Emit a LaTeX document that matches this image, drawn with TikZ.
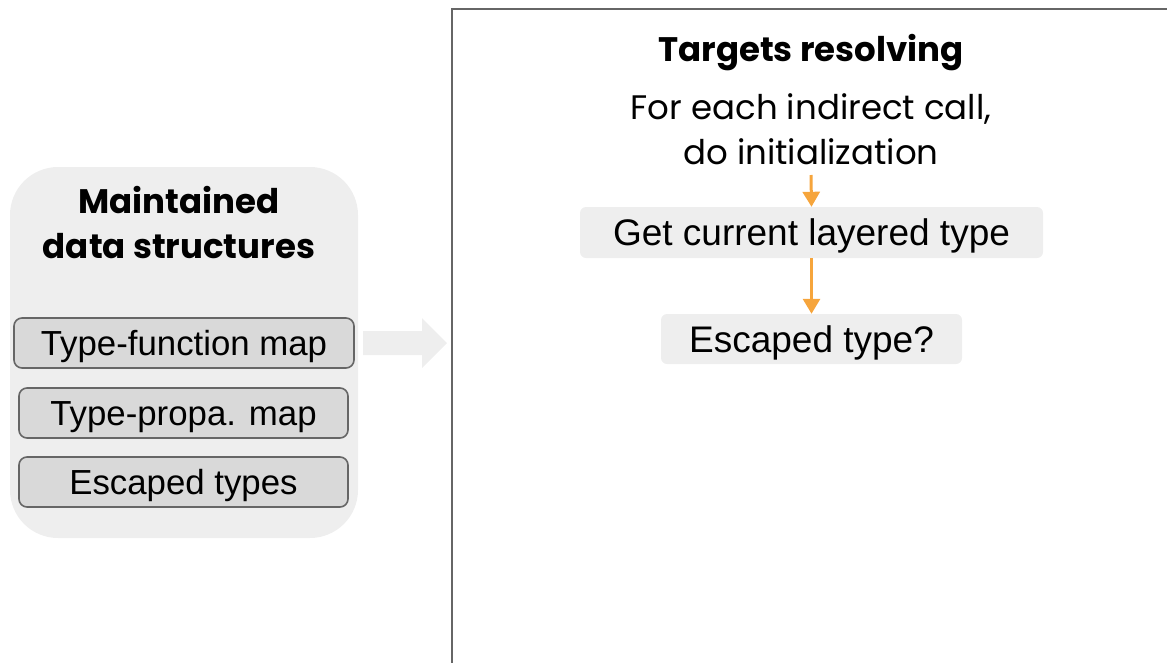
\documentclass[tikz,border=0pt]{standalone}
\usepackage{fontspec}
\setmainfont{Liberation Sans}
\newfontfamily\ttlfont{Poppins}
\usetikzlibrary{arrows.meta}
\definecolor{panel}{HTML}{EEEEEE}
\definecolor{boxfill}{HTML}{D9D9D9}
\definecolor{edge}{HTML}{666666}
\definecolor{orangeA}{HTML}{F6A53C}
\tikzset{
  dsbox/.style={draw=edge, line width=1.6pt, fill=boxfill, rounded corners=8pt, inner sep=0pt, text height=25pt, text depth=0pt, font=\fontsize{34.8}{40}\selectfont},
  stepbox/.style={fill=panel, rounded corners=6pt, inner sep=0pt, text height=26pt, text depth=0pt, font=\fontsize{37}{44}\selectfont},
  ttl/.style={font=\ttlfont\bfseries\fontsize{34}{45}\selectfont, align=center, inner sep=0pt},
  sub/.style={font=\ttlfont\fontsize{34}{45}\selectfont, align=center, inner sep=0pt},
  flow/.style={draw=orangeA, line width=3pt, -{Triangle[width=17pt,length=15pt]}}
}
\begin{document}
\begin{tikzpicture}[x=1pt,y=-1pt]
\useasboundingbox (0,0) rectangle (1167,662);
% right frame
\draw[edge, line width=2pt] (1180,9) -- (452,9) -- (452,680);
% left panel
\node[fill=panel, rounded corners=48pt, minimum width=348pt, minimum height=371pt, inner sep=0pt] (panelL) at (184,352.5) {};
\node[ttl, anchor=base] (ttlL) at (179,258) {Maintained\\data structures};
\node[dsbox, minimum width=340pt, minimum height=50pt] (tf) at (184,343) {Type-function map};
\node[dsbox, minimum width=329pt, minimum height=50pt] (tp) at (183.5,413) {Type-propa. map};
\node[dsbox, minimum width=329pt, minimum height=50pt] (et) at (183.5,482) {Escaped types};
% wide arrow
\fill[panel] (363,331) -- (422,331) -- (422,318) -- (447,343) -- (422,368) -- (422,355) -- (363,355) -- cycle;
% right content
\node[ttl, anchor=base] (ttlR) at (811,61) {Targets resolving};
\node[sub, anchor=base] (init) at (811,164) {For each indirect call,\\do initialization};
\node[stepbox, minimum width=463pt, minimum height=51pt] (gc) at (811.5,232.5) {Get current layered type};
\node[stepbox, minimum width=301pt, minimum height=50pt] (es) at (811.5,339) {Escaped type?};
\draw[flow] (811,175) -- (gc.north);
\draw[flow] (gc.south) -- (es.north);
\end{tikzpicture}
\end{document}
